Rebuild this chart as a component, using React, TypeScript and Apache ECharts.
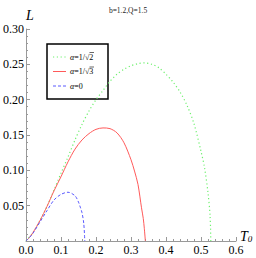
import React, { useEffect, useRef } from "react";
import * as echarts from "echarts";

const FONT = "Liberation Serif";

const greenT = [0, 0.02, 0.04, 0.06, 0.08, 0.10, 0.12, 0.14, 0.16, 0.18, 0.20, 0.22, 0.24, 0.26, 0.28, 0.30, 0.32, 0.34, 0.36, 0.38, 0.40, 0.42, 0.44, 0.46, 0.48, 0.50, 0.51, 0.52, 0.526, 0.528];
const greenL = [0, 0.012, 0.029, 0.049, 0.072, 0.096, 0.119, 0.143, 0.165, 0.184, 0.200, 0.213, 0.226, 0.236, 0.243, 0.248, 0.251, 0.252, 0.250, 0.245, 0.236, 0.225, 0.211, 0.192, 0.166, 0.127, 0.104, 0.068, 0.035, 0];

const redT = [0, 0.01, 0.02, 0.04, 0.06, 0.08, 0.10, 0.12, 0.14, 0.16, 0.18, 0.20, 0.22, 0.24, 0.26, 0.28, 0.30, 0.31, 0.32, 0.33, 0.335, 0.338, 0.341];
const redL = [0, 0.005, 0.012, 0.029, 0.049, 0.071, 0.091, 0.112, 0.130, 0.143, 0.152, 0.158, 0.160, 0.159, 0.153, 0.139, 0.115, 0.099, 0.080, 0.047, 0.032, 0.018, 0];

const blueT = [0, 0.01, 0.02, 0.04, 0.06, 0.08, 0.10, 0.12, 0.14, 0.15, 0.155, 0.16, 0.165, 0.168];
const blueL = [0, 0.005, 0.011, 0.027, 0.043, 0.058, 0.066, 0.069, 0.064, 0.055, 0.048, 0.040, 0.025, 0];

const xTicks = [0, 0.6, 0.1];
const yTicks = [0, 0.3, 0.05];

const legendNames = ["α=1/√2", "α=1/√3", "α=0"];
const colors = ["#6ef06e", "#ff5a5a", "#5a5aff"];

const pairs = (xs: number[], ys: number[]) => xs.map((x, i) => [x, ys[i]]);

export default function App() {
  const ref = useRef<HTMLDivElement>(null);
  useEffect(() => {
    document.body.style.margin = "0";
    const chart = echarts.init(ref.current!, undefined, { renderer: "svg" });
    const axisGray = "#999";
    const legendY = [57, 71.5, 86];
    const dashes: any[] = [[1.2, 2.6], "solid", [3, 2]];
    const legendGraphics: any[] = [
      {
        type: "rect",
        shape: { x: 47, y: 44, width: 61, height: 55 },
        style: { fill: "rgba(0,0,0,0)", stroke: "#000", lineWidth: 1.5 },
      },
    ];
    legendNames.forEach((name, i) => {
      legendGraphics.push({
        type: "line",
        shape: { x1: 53, y1: legendY[i], x2: 66, y2: legendY[i] },
        style: { stroke: colors[i], lineWidth: 1, lineDash: dashes[i] === "solid" ? null : dashes[i] },
      });
      legendGraphics.push({
        type: "text",
        x: 70,
        y: legendY[i],
        style: {
          text: "{a|α}" + name.slice(1),
          rich: { a: { fontStyle: "italic", fontFamily: FONT, fontSize: 8, fill: "#000" } },
          fontFamily: FONT,
          fontSize: 8,
          fill: "#000",
          verticalAlign: "middle",
        },
      });
    });
    [0, 1].forEach((i) => {
      legendGraphics.push({
        type: "line",
        shape: { x1: 89.5, y1: legendY[i] - 4.5, x2: 94, y2: legendY[i] - 4.5 },
        style: { stroke: "#000", lineWidth: 0.6 },
      });
    });

    chart.setOption({
      animation: false,
      title: {
        text: "b=1.2,Q=1.5",
        left: "center",
        top: 1,
        textStyle: { fontFamily: FONT, fontSize: 7.5, fontWeight: "normal", color: "#222" },
      },
      grid: { left: 24, right: 20, top: 29, bottom: 17 },
      xAxis: {
        type: "value",
        min: xTicks[0],
        max: xTicks[1],
        interval: xTicks[2],
        axisLine: { show: true, onZero: false, lineStyle: { color: axisGray, width: 1 } },
        axisTick: { show: true, inside: true, length: 4, lineStyle: { color: axisGray } },
        minorTick: { show: true, splitNumber: 5, length: 2, lineStyle: { color: axisGray } },
        splitLine: { show: false },
        axisLabel: {
          formatter: (v: number) => v.toFixed(1),
          fontFamily: FONT,
          fontSize: 12,
          color: "#000",
          margin: 3,
        },
      },
      yAxis: {
        type: "value",
        min: yTicks[0],
        max: yTicks[1],
        interval: yTicks[2],
        axisLine: { show: true, onZero: false, lineStyle: { color: axisGray, width: 1 } },
        axisTick: { show: true, inside: true, length: 4, lineStyle: { color: axisGray } },
        minorTick: { show: true, splitNumber: 5, length: 2, lineStyle: { color: axisGray } },
        splitLine: { show: false },
        axisLabel: {
          formatter: (v: number) => (v === 0 ? "" : v.toFixed(2)),
          fontFamily: FONT,
          fontSize: 12,
          color: "#000",
          margin: 2,
        },
      },
      graphic: [
        {
          type: "text",
          x: 26,
          y: 8,
          style: { text: "L", fontFamily: FONT, fontStyle: "italic", fontSize: 14, fill: "#000" },
        },
        {
          type: "text",
          x: 240,
          y: 229,
          style: {
            text: "{t|T}{s|0}",
            rich: {
              t: { fontFamily: FONT, fontStyle: "italic", fontSize: 14, fill: "#000" },
              s: { fontFamily: FONT, fontStyle: "italic", fontSize: 9, fill: "#000", padding: [5, 0, 0, 0] },
            },
          },
        },
        ...legendGraphics,
      ],
      series: [
        {
          type: "line",
          name: legendNames[0],
          data: pairs(greenT, greenL),
          smooth: 0.3,
          symbol: "none",
          lineStyle: { color: colors[0], width: 1.2, type: dashes[0] },
        },
        {
          type: "line",
          name: legendNames[1],
          data: pairs(redT, redL),
          smooth: 0.3,
          symbol: "none",
          lineStyle: { color: colors[1], width: 1, type: "solid" },
        },
        {
          type: "line",
          name: legendNames[2],
          data: pairs(blueT, blueL),
          smooth: 0.3,
          symbol: "none",
          lineStyle: { color: colors[2], width: 1, type: dashes[2] },
        },
      ],
    });
    return () => chart.dispose();
  }, []);
  return <div ref={ref} style={{ width: 256, height: 258 }} />;
}
